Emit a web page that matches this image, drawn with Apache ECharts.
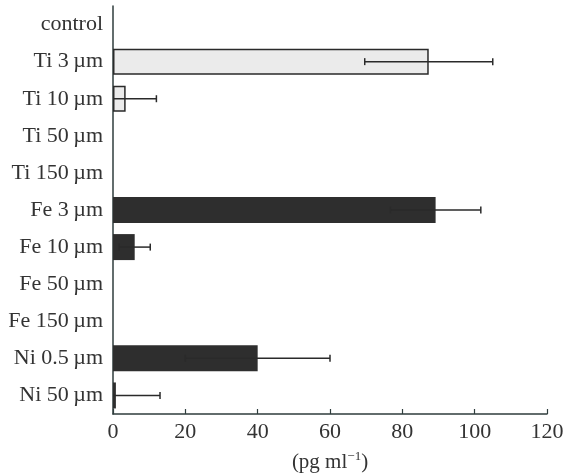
<!DOCTYPE html>
<html>
<head>
<meta charset="utf-8">
<script src="https://cdn.jsdelivr.net/npm/echarts@6/dist/echarts.min.js"></script>
<style>
  html, body { margin: 0; padding: 0; background: #fff; }
  #chart { width: 568px; height: 474px; }
</style>
</head>
<body>
<div id="chart"></div>
<script>
// categories, top to bottom
const categories = [
  "control",
  "Ti 3\u2009µm",
  "Ti 10\u2009µm",
  "Ti 50\u2009µm",
  "Ti 150\u2009µm",
  "Fe 3\u2009µm",
  "Fe 10\u2009µm",
  "Fe 50\u2009µm",
  "Fe 150\u2009µm",
  "Ni 0.5\u2009µm",
  "Ni 50\u2009µm",
];
// mean release (pg ml-1) and error (±)
const means = [0, 87.3, 3.5, 0, 0, 89.2, 6, 0, 0, 40, 0.8];
const errors = [0, 17.7, 8.5, 0, 0, 12.5, 4.3, 0, 0, 20, 12.2];
const xTicks = [0, 20, 40, 60, 80, 100, 120];

const font = "'Liberation Serif', 'DejaVu Serif', serif";
const ink = "#333";
const axisColor = "#2f3d3d";

// Ti particles are drawn light, Fe and Ni dark
function fillFor(name) {
  return name.indexOf("Ti") === 0 ? "#ebebeb" : "#2e2e2e";
}

const barData = categories.map(function (name, i) {
  if (!means[i]) return "-";
  return {
    value: means[i],
    itemStyle: {
      color: fillFor(name),
      borderColor: "#2a2a2a",
      borderWidth: name.indexOf("Ti") === 0 ? 1.5 : 0,
    },
  };
});

const errData = [];
categories.forEach(function (name, i) {
  if (errors[i]) errData.push([means[i], i, errors[i]]);
});

const chart = echarts.init(document.getElementById("chart"));
chart.setOption({
  animation: false,
  grid: { left: 113, right: 21, top: 6, bottom: 60, outerBoundsMode: "none" },
  xAxis: {
    type: "value",
    min: xTicks[0],
    max: xTicks[xTicks.length - 1],
    interval: 20,
    splitLine: { show: false },
    axisLine: { show: true, lineStyle: { color: axisColor, width: 1.5 } },
    axisTick: { show: true, inside: true, length: 5, lineStyle: { color: axisColor, width: 1.2 } },
    axisLabel: { color: ink, fontFamily: font, fontSize: 22, margin: 7 },
    name: "(pg ml{sup|−1})",
    nameLocation: "middle",
    nameGap: 36,
    nameTextStyle: {
      color: ink,
      fontFamily: font,
      fontSize: 21,
      rich: {
        sup: { fontFamily: font, fontSize: 13, color: ink, padding: [0, 0, 11, 0] },
      },
    },
  },
  yAxis: {
    type: "category",
    inverse: true,
    data: categories,
    axisLine: { show: true, lineStyle: { color: axisColor, width: 1.5 } },
    axisTick: { show: false },
    axisLabel: { color: ink, fontFamily: font, fontSize: 22, margin: 10 },
  },
  series: [
    {
      type: "bar",
      data: barData,
      barWidth: 26,
    },
    {
      type: "custom",
      z: 5,
      data: errData,
      encode: { x: 0, y: 1 },
      renderItem: function (params, api) {
        const cat = api.value(1);
        const mean = api.value(0);
        const err = api.value(2);
        const loVal = Math.max(mean - err, xTicks[0]);
        const lo = api.coord([loVal, cat]);
        const hi = api.coord([mean + err, cat]);
        const cap = 3.5;
        const style = { stroke: "#2a2a2a", lineWidth: 1.5 };
        const children = [
          { type: "line", shape: { x1: lo[0], y1: lo[1], x2: hi[0], y2: hi[1] }, style: style },
          { type: "line", shape: { x1: hi[0], y1: hi[1] - cap, x2: hi[0], y2: hi[1] + cap }, style: style },
        ];
        if (mean - err > xTicks[0]) {
          children.push({ type: "line", shape: { x1: lo[0], y1: lo[1] - cap, x2: lo[0], y2: lo[1] + cap }, style: style });
        }
        return { type: "group", children: children };
      },
    },
  ],
});
</script>
</body>
</html>
